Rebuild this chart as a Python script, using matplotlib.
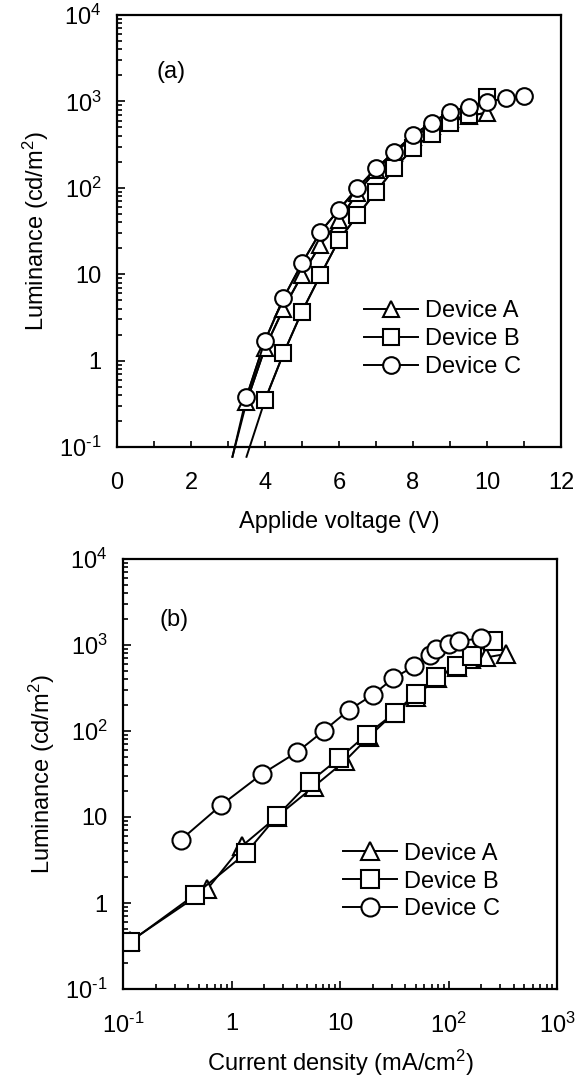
import matplotlib
matplotlib.use("Agg")
import matplotlib.pyplot as plt
from matplotlib.ticker import FixedLocator, LogLocator, NullFormatter

plt.rcParams["font.family"] = ["Liberation Sans", "DejaVu Sans"]
plt.rcParams["mathtext.fontset"] = "custom"
plt.rcParams["mathtext.rm"] = "Liberation Sans"
plt.rcParams["mathtext.it"] = "Liberation Sans"

# (a) luminance vs applied voltage
volt_A = [3.5, 4.0, 4.5, 5.0, 5.5, 6.0, 6.5, 7.0, 7.5, 8.0, 8.5, 9.0, 9.5, 10.0]
lum_A = [0.33, 1.4, 4.0, 9.8, 22, 42, 88, 160, 255, 385, 520, 620, 680, 740]
volt_B = [4.0, 4.5, 5.0, 5.5, 6.0, 6.5, 7.0, 7.5, 8.0, 8.5, 9.0, 9.5, 10.0]
lum_B = [0.35, 1.21, 3.7, 9.8, 25, 48, 90, 168, 286, 416, 558, 696, 1135]
volt_C = [3.5, 4.0, 4.5, 5.0, 5.5, 6.0, 6.5, 7.0, 7.5, 8.0, 8.5, 9.0, 9.5, 10.0, 10.5, 11.0]
lum_C = [0.38, 1.7, 5.3, 13.4, 31, 56, 100, 168, 262, 408, 567, 760, 869, 993, 1084, 1164]

# lines run on below the axis towards turn-on
tail_volt_AC = 3.12
tail_volt_B = 3.5
tail_lum = 0.077

# (b) luminance vs current density
cur_A = [0.117, 0.60, 1.25, 2.6, 5.7, 11.1, 18.4, 31.7, 49.7, 77.6, 119, 161, 221, 339]
lumb_A = [0.36, 1.46, 4.6, 10, 22.4, 44.8, 85.5, 163, 250, 411, 560, 680, 716, 787]
cur_B = [0.117, 0.46, 1.36, 2.62, 5.28, 9.84, 17.6, 32.1, 49.7, 76, 119, 164, 258]
lumb_B = [0.355, 1.25, 3.8, 10.2, 25.7, 48.2, 91, 163, 272, 419, 569, 752, 1117]
cur_C = [0.34, 0.80, 1.92, 4.03, 7.05, 12.0, 20.1, 31.1, 48.5, 67.8, 77.4, 100, 126, 201]
lumb_C = [5.4, 13.7, 31.8, 57, 100, 174, 264, 411, 569, 765, 904, 1019, 1117, 1191]

labels = ["Device A", "Device B", "Device C"]
y_ticks = [0.1, 1, 10, 100, 1000, 10000]
y_ticklabels = [r"10$^{\text{-1}}$", "1", "10", r"10$^{\mathregular{2}}$",
                r"10$^{\mathregular{3}}$", r"10$^{\mathregular{4}}$"]
x_ticks_b = [0.1, 1, 10, 100, 1000]
x_ticklabels_b = [r"10$^{\text{-1}}$", "1", "10", r"10$^{\mathregular{2}}$",
                  r"10$^{\mathregular{3}}$"]

FS = 17
mk = dict(color="black", markerfacecolor="white", markeredgecolor="black",
          markeredgewidth=1.5, linewidth=1.4)

fig = plt.figure(figsize=(5.78, 10.81), dpi=100)
ax1 = fig.add_axes([0.2024, 0.5865, 0.7682, 0.3996])
ax2 = fig.add_axes([0.2128, 0.0851, 0.7509, 0.3978])


def style(ax):
    for s in ax.spines.values():
        s.set_linewidth(1.6)
    ax.tick_params(which="both", direction="in", top=False, right=False,
                   labelsize=FS, width=1.2)
    ax.tick_params(which="major", length=6)
    ax.tick_params(which="minor", length=3.5)
    ax.tick_params(axis="y", which="both", pad=11)
    ax.set_yscale("log")
    ax.set_ylim(0.1, 10000)
    ax.set_yticks(y_ticks)
    ax.set_yticklabels(y_ticklabels)
    ax.yaxis.set_minor_locator(LogLocator(base=10, subs=range(2, 10)))
    ax.yaxis.set_minor_formatter(NullFormatter())
    ax.set_ylabel("Luminance (cd/m$\\mathregular{^2}$)", fontsize=FS, labelpad=6)


# ---- panel (a)
style(ax1)
ax1.plot([tail_volt_AC] + volt_A, [tail_lum] + lum_A, color="black", lw=1.4, clip_on=False)
ax1.plot([tail_volt_B] + volt_B, [tail_lum] + lum_B, color="black", lw=1.4, clip_on=False)
ax1.plot([tail_volt_AC] + volt_C, [tail_lum] + lum_C, color="black", lw=1.4, clip_on=False)
la, = ax1.plot(volt_A, lum_A, marker="^", markersize=12, **mk)
lb, = ax1.plot(volt_B, lum_B, marker="s", markersize=12, **mk)
lc, = ax1.plot(volt_C, lum_C, marker="o", markersize=12, **mk)
ax1.set_xlim(0, 12)
ax1.set_xticks([0, 2, 4, 6, 8, 10, 12])
ax1.xaxis.set_minor_locator(FixedLocator(range(1, 12, 2)))
ax1.tick_params(axis="x", which="both", length=4, pad=18)
ax1.set_xlabel("Applide voltage (V)", fontsize=FS, labelpad=12)
ax1.text(0.09, 0.868, "(a)", transform=ax1.transAxes, fontsize=FS, va="center")
ax1.legend([la, lb, lc], labels, loc="center left", bbox_to_anchor=(0.535, 0.25),
           frameon=False, fontsize=FS, handlelength=2.3, handletextpad=0.3,
           labelspacing=0.25, borderaxespad=0)

# ---- panel (b)
style(ax2)
ax2.set_xscale("log")
ax2.set_xlim(0.1, 1000)
la2, = ax2.plot(cur_A, lumb_A, marker="^", markersize=13, **mk)
lb2, = ax2.plot(cur_B, lumb_B, marker="s", markersize=13, **mk)
lc2, = ax2.plot(cur_C, lumb_C, marker="o", markersize=13, **mk)
ax2.set_xticks(x_ticks_b)
ax2.set_xticklabels(x_ticklabels_b)
ax2.xaxis.set_minor_locator(LogLocator(base=10, subs=range(2, 10)))
ax2.xaxis.set_minor_formatter(NullFormatter())
ax2.tick_params(axis="x", which="both", pad=17)
ax2.set_xlabel("Current density (mA/cm$\\mathregular{^2}$)", fontsize=FS, labelpad=7)
ax2.text(0.085, 0.858, "(b)", transform=ax2.transAxes, fontsize=FS, va="center")
ax2.legend([la2, lb2, lc2], labels, loc="center left", bbox_to_anchor=(0.485, 0.25),
           frameon=False, fontsize=FS, handlelength=2.3, handletextpad=0.3,
           labelspacing=0.25, borderaxespad=0)

fig.savefig("out.png", dpi=100)
